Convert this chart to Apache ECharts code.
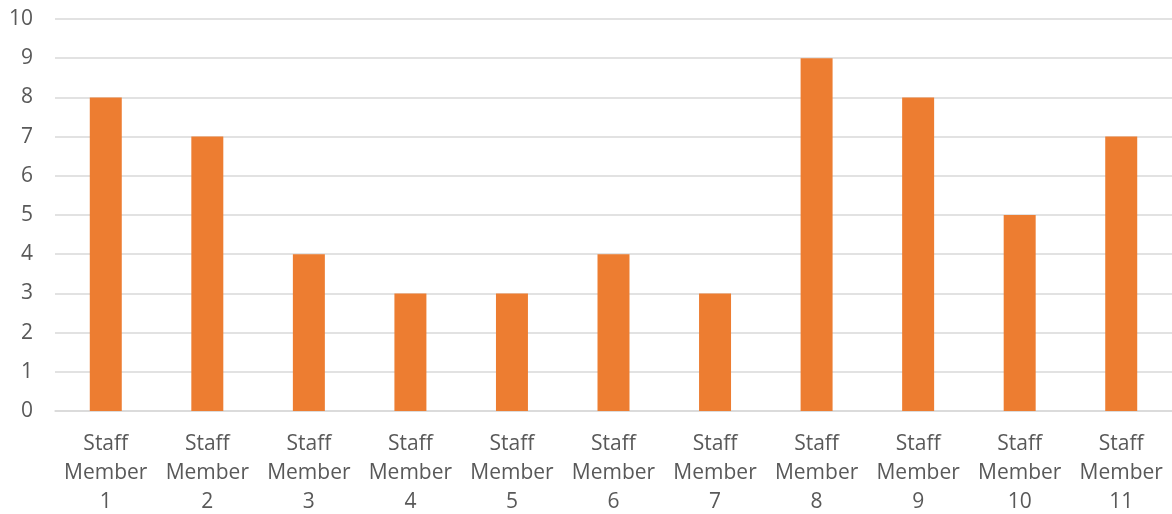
<!DOCTYPE html>
<html lang="en">
<head>
    <meta charset="UTF-8">
    <title>Staff Members</title>
    <script src="https://cdn.jsdelivr.net/npm/echarts@6/dist/echarts.min.js"></script>
    <style>
        html, body { margin: 0; padding: 0; background: #fff; }
    </style>
</head>
<body>
<div id="container" style="width: 1172px; height: 514px"></div>
<script type="text/javascript">
    // chart data
    var categories = ['Staff Member 1', 'Staff Member 2', 'Staff Member 3', 'Staff Member 4',
        'Staff Member 5', 'Staff Member 6', 'Staff Member 7', 'Staff Member 8',
        'Staff Member 9', 'Staff Member 10', 'Staff Member 11'];
    var values = [8, 7, 4, 3, 3, 4, 3, 9, 8, 5, 7];
    var yTicks = [0, 10, 1]; // min, max, step

    var textColor = '#595959';
    var font = 'Open Sans';

    var myChart = echarts.init(document.getElementById('container'));
    var option = {
        animation: false,
        grid: { left: 55, right: 0, top: 19, bottom: 103, outerBoundsMode: 'none' },
        xAxis: {
            type: 'category',
            data: categories,
            axisLine: { lineStyle: { color: '#d9d9d9', width: 1.5 } },
            axisTick: { show: false },
            axisLabel: {
                interval: 0,
                margin: 19,
                color: textColor,
                fontFamily: font,
                fontSize: 21,
                lineHeight: 29,
                formatter: function (v) {
                    var p = v.split(' ');
                    return p[0] + '\n' + p[1] + '\n' + p[2];
                }
            }
        },
        yAxis: {
            type: 'value',
            min: yTicks[0],
            max: yTicks[1],
            interval: yTicks[2],
            axisLine: { show: false },
            axisTick: { show: false },
            splitLine: { lineStyle: { color: '#d9d9d9', width: 1.5 } },
            axisLabel: {
                margin: 22,
                color: textColor,
                fontFamily: font,
                fontSize: 21
            }
        },
        series: [{
            type: 'bar',
            data: values,
            barWidth: '31.5%',
            itemStyle: { color: '#ED7D31' }
        }]
    };
    myChart.setOption(option);
</script>
</body>
</html>
